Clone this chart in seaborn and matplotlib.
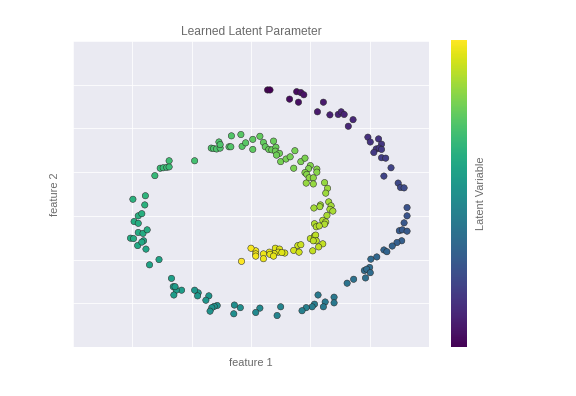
import numpy as np
import pandas as pd
import matplotlib
matplotlib.use("Agg")
import matplotlib.pyplot as plt
import seaborn as sns

# feature 1, feature 2 and latent variable (spiral order)
feature1 = [3.28, 3.32, 3.65, 3.77, 3.84, 3.89, 3.80, 4.22, 4.12, 4.33, 4.47, 4.52, 4.57, 4.72, 4.64,
            4.97, 5.01, 5.15, 5.20, 5.11, 5.16, 5.20, 5.07, 5.20, 5.27, 5.36, 5.24, 5.48, 5.52, 5.58,
            5.63, 5.63, 5.58, 5.50, 5.55, 5.63, 5.54, 5.46, 5.38, 5.24, 5.29, 5.12, 5.02, 5.00, 4.91,
            4.95, 5.01, 4.93, 4.73, 4.62, 4.40, 4.40, 4.25, 4.22, 4.13, 4.07, 4.03, 3.93, 3.86, 3.50,
            3.44, 3.15, 3.08, 2.82, 2.72, 2.71, 2.43, 2.38, 2.34, 2.31, 2.29, 2.24, 2.11, 2.10, 2.05,
            1.83, 1.74, 1.69, 1.72, 1.70, 1.66, 1.29, 1.45, 1.23, 1.09, 1.19, 1.16, 0.97, 1.02, 1.10,
            1.18, 1.25, 1.03, 1.10, 1.10, 1.16, 1.21, 1.01, 1.22, 1.38, 1.47, 1.52, 1.58, 1.62, 1.62,
            2.05, 2.33, 2.37, 2.42, 2.48, 2.46, 2.48, 2.63, 2.66, 2.67, 2.83, 2.85, 2.91, 3.03, 3.03,
            3.15, 3.21, 3.24, 3.30, 3.35, 3.38, 3.42, 3.41, 3.48, 3.43, 3.50, 3.59, 3.66, 3.74, 3.72,
            3.84, 3.91, 4.00, 3.97, 3.91, 3.94, 4.11, 4.11, 3.98, 4.05, 3.93, 4.05, 4.24, 4.29, 4.26,
            4.31, 4.35, 4.33, 4.38, 4.17, 4.16, 4.06, 4.28, 4.21, 4.26, 4.24, 4.07, 4.10, 4.15, 4.00,
            4.07, 4.09, 4.10, 4.05, 4.21, 4.14, 4.04, 3.79, 3.84, 3.72, 3.81, 3.57, 3.41, 3.48, 3.46,
            3.52, 3.39, 3.31, 3.32, 3.38, 3.21, 3.21, 3.08, 3.08, 3.08, 3.00, 2.84]
feature2 = [5.88, 5.88, 5.67, 5.84, 5.82, 5.77, 5.60, 5.60, 5.38, 5.31, 5.32, 5.38, 5.32, 5.20, 5.05,
            4.80, 4.69, 4.76, 4.64, 4.53, 4.55, 4.52, 4.45, 4.33, 4.32, 4.10, 3.91, 3.75, 3.65, 3.64,
            3.19, 3.00, 2.84, 2.66, 2.68, 2.65, 2.43, 2.39, 2.31, 2.22, 2.18, 2.06, 2.01, 1.82, 1.75,
            1.78, 1.70, 1.58, 1.55, 1.46, 1.14, 1.01, 1.03, 0.92, 1.19, 0.98, 0.92, 0.90, 0.83, 0.92,
            0.72, 0.89, 0.79, 0.90, 0.96, 0.76, 0.95, 0.93, 0.90, 0.82, 1.17, 1.07, 1.24, 1.17, 1.30,
            1.30, 1.30, 1.38, 1.38, 1.19, 1.57, 1.88, 2.00, 2.24, 2.32, 2.43, 2.40, 2.49, 2.48, 2.62,
            2.60, 2.68, 2.87, 2.83, 3.00, 3.05, 3.25, 3.38, 3.46, 3.92, 4.09, 4.10, 4.11, 4.12, 4.26,
            4.26, 4.55, 4.54, 4.53, 4.55, 4.69, 4.63, 4.58, 4.58, 4.83, 4.86, 4.59, 4.67, 4.75, 4.52,
            4.82, 4.68, 4.58, 4.52, 4.51, 4.71, 4.57, 4.48, 4.43, 4.39, 4.24, 4.30, 4.35, 4.49, 4.09,
            4.24, 4.32, 4.15, 4.08, 3.99, 3.95, 4.07, 4.00, 3.87, 3.87, 3.75, 3.73, 3.76, 3.63, 3.52,
            3.32, 3.23, 3.15, 3.11, 3.25, 3.21, 3.18, 3.01, 2.90, 2.86, 2.81, 2.82, 2.75, 2.77, 2.48,
            2.54, 2.56, 2.43, 2.43, 2.36, 2.29, 2.20, 2.32, 2.34, 2.21, 2.17, 2.15, 2.26, 2.24, 2.17,
            2.16, 2.14, 2.17, 2.12, 2.08, 2.13, 2.02, 2.20, 2.13, 2.08, 2.26, 1.96]
latent = [0.00, 0.00, 0.03, 0.03, 0.04, 0.05, 0.04, 0.07, 0.07, 0.09, 0.10, 0.10, 0.10, 0.11, 0.11,
          0.14, 0.15, 0.15, 0.16, 0.16, 0.16, 0.17, 0.17, 0.18, 0.18, 0.20, 0.20, 0.22, 0.22, 0.23,
          0.25, 0.26, 0.27, 0.28, 0.28, 0.28, 0.30, 0.30, 0.31, 0.32, 0.32, 0.33, 0.34, 0.35, 0.35,
          0.35, 0.35, 0.36, 0.37, 0.38, 0.40, 0.40, 0.41, 0.41, 0.41, 0.42, 0.42, 0.43, 0.43, 0.45,
          0.45, 0.47, 0.47, 0.49, 0.49, 0.49, 0.51, 0.51, 0.51, 0.51, 0.52, 0.52, 0.53, 0.53, 0.53,
          0.55, 0.55, 0.55, 0.55, 0.55, 0.56, 0.58, 0.58, 0.59, 0.60, 0.60, 0.60, 0.61, 0.61, 0.61,
          0.61, 0.62, 0.62, 0.62, 0.63, 0.63, 0.64, 0.64, 0.65, 0.67, 0.68, 0.68, 0.68, 0.68, 0.69,
          0.70, 0.72, 0.72, 0.72, 0.72, 0.72, 0.72, 0.73, 0.73, 0.73, 0.74, 0.74, 0.74, 0.75, 0.75,
          0.76, 0.76, 0.76, 0.77, 0.77, 0.77, 0.77, 0.78, 0.78, 0.78, 0.79, 0.79, 0.79, 0.79, 0.80,
          0.80, 0.80, 0.81, 0.81, 0.82, 0.82, 0.82, 0.82, 0.83, 0.83, 0.84, 0.84, 0.84, 0.85, 0.85,
          0.86, 0.86, 0.87, 0.87, 0.86, 0.86, 0.86, 0.87, 0.88, 0.88, 0.88, 0.88, 0.89, 0.89, 0.90,
          0.90, 0.90, 0.90, 0.90, 0.91, 0.91, 0.91, 0.92, 0.92, 0.93, 0.93, 0.94, 0.95, 0.95, 0.95,
          0.95, 0.95, 0.96, 0.96, 0.96, 0.97, 0.97, 0.98, 0.98, 0.98, 0.99, 1.00]

df = pd.DataFrame({"feature 1": feature1, "feature 2": feature2, "latent": latent})

sns.set_style("darkgrid")
plt.rcParams["font.family"] = ["Liberation Sans", "DejaVu Sans"]
txt = "0.42"

fig = plt.figure(figsize=(8, 5.5), dpi=72)
ax = fig.add_axes([0.1267, 0.1237, 0.6181, 0.7728])
cax = fig.add_axes([0.783, 0.1237, 0.0278, 0.7753])

sns.scatterplot(data=df, x="feature 1", y="feature 2", hue="latent", palette="viridis",
                hue_norm=(0, 1), s=40, edgecolor="0.15", linewidth=0.5, legend=False, ax=ax)

ax.set_xlim(0, 6)
ax.set_ylim(0, 7)
ax.set_xticks([1, 2, 3, 4, 5])
ax.set_yticks([1, 2, 3, 4, 5, 6])
ax.set_xticklabels([])
ax.set_yticklabels([])
ax.tick_params(length=0)
ax.set_title("Learned Latent Parameter", color=txt, fontsize=12, pad=6)
ax.set_xlabel("feature 1", color=txt, fontsize=11)
ax.set_ylabel("feature 2", color=txt, fontsize=11)
ax.xaxis.set_label_coords(0.5, -0.035)
ax.yaxis.set_label_coords(-0.036, 0.5)

sm = plt.cm.ScalarMappable(cmap="viridis", norm=plt.Normalize(0, 1))
cb = fig.colorbar(sm, cax=cax)
cb.set_ticks([])
cb.outline.set_visible(False)
cb.set_label("Latent Variable", color=txt, fontsize=11)
cax.yaxis.set_label_coords(1.55, 0.5)

fig.savefig("out.png", dpi=72)
